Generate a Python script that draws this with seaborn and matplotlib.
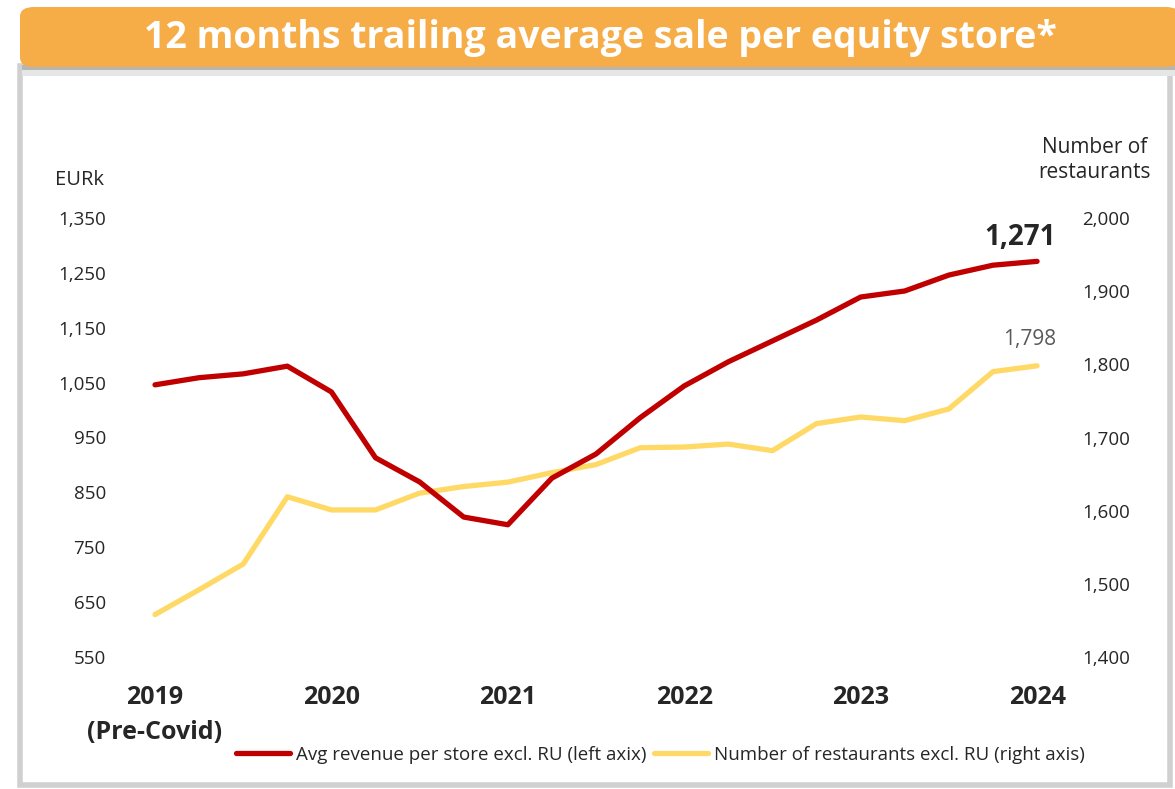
import pandas as pd
import numpy as np
import matplotlib.pyplot as plt
import matplotlib as mpl
from matplotlib.patches import Rectangle, FancyBboxPatch
from matplotlib.lines import Line2D
import seaborn as sns

sns.set_style('white')
plt.rcParams['font.family'] = ['Open Sans', 'DejaVu Sans']

# quarterly points, 2019 (pre-covid) .. 2024
quarters = list(range(21))
year_ticks = [0, 4, 8, 12, 16, 20]
year_labels = ['2019\n(Pre-Covid)', '2020', '2021', '2022', '2023', '2024']

revenue = [1046, 1059, 1066, 1080, 1033, 913, 869, 805, 791, 876, 920,
           986, 1044, 1088, 1126, 1164, 1206, 1217, 1246, 1264, 1271]
restaurants = [1458, 1492, 1527, 1619, 1601, 1601, 1624, 1633, 1639, 1652, 1663,
               1686, 1687, 1691, 1682, 1719, 1728, 1723, 1739, 1790, 1798]

left_ticks = [550, 650, 750, 850, 950, 1050, 1150, 1250, 1350]
right_ticks = [1400, 1500, 1600, 1700, 1800, 1900, 2000]

red = '#C00000'
yellow = '#FFD966'

df = pd.DataFrame({'quarter': quarters, 'revenue': revenue, 'restaurants': restaurants})

W, H = 1175, 789
fig = plt.figure(figsize=(11.75, 7.89), dpi=100)

# panel frame + banner (kept behind the axes)
fig.patches.append(Rectangle((20/W, 4/H), 1150/W, 1 - 70/H, transform=fig.transFigure,
                             facecolor='white', edgecolor='#d0d0d0', lw=4, zorder=-3))
fig.patches.append(Rectangle((22/W, 1 - 76/H), 1153/W, 10/H, transform=fig.transFigure,
                             facecolor='#e6e6e6', edgecolor='none', zorder=-2))
fig.patches.append(Rectangle((22/W, 1 - 70/H), 1153/W, 5/H, transform=fig.transFigure,
                             facecolor='#b5b5b5', edgecolor='none', zorder=-2))
fig.patches.append(FancyBboxPatch((20/W, 1 - 67/H), 1160/W, 60/H, transform=fig.transFigure,
                                  boxstyle='round,pad=0,rounding_size=0.012',
                                  facecolor='#F6AD47', edgecolor='none', zorder=-1))
fig.text(600/W, 1 - 38/H, '12 months trailing average sale per equity store*', color='white',
         fontsize=27, fontweight='bold', ha='center', va='center', zorder=3)

ax = fig.add_axes([135/W, 1 - 657/H, 925/W, 439/H])
ax2 = ax.twinx()

sns.lineplot(data=df, x='quarter', y='revenue', ax=ax, color=red, lw=3.8)
sns.lineplot(data=df, x='quarter', y='restaurants', ax=ax2, color=yellow, lw=3.8)
ax2.set_zorder(1)
ax.set_zorder(2)
ax.patch.set_visible(False)
ax2.patch.set_visible(False)

ax.set_xlim(-0.454, 20.52)
ax.set_ylim(550, 1350)
ax2.set_ylim(1400, 2000)
ax.set_yticks(left_ticks)
ax.set_yticklabels(['{:,}'.format(v) for v in left_ticks])
ax2.set_yticks(right_ticks)
ax2.set_yticklabels(['{:,}'.format(v) for v in right_ticks])
ax.set_xticks(year_ticks)
ax.set_xticklabels(year_labels, fontweight='bold', fontsize=18, va='top')
for t in ax.get_xticklabels():
    t.set_linespacing(1.55)
ax.tick_params(axis='x', length=0, pad=20)
ax.tick_params(axis='y', length=0, pad=21, labelsize=13.5)
ax2.tick_params(axis='y', length=0, pad=16, labelsize=13.5)
ax.set_xlabel('')
ax.set_ylabel('')
ax2.set_ylabel('')
for a in (ax, ax2):
    for s in a.spines.values():
        s.set_visible(False)

fig.text(55/W, 1 - 180/H, 'EURk', fontsize=14.5, ha='left', va='center')
fig.text(1095/W, 1 - 160/H, 'Number of\nrestaurants', fontsize=15, ha='center', va='center',
         linespacing=1.25)

ax.annotate('{:,}'.format(revenue[-1]), (quarters[-1], revenue[-1]), xytext=(-12, 17),
            textcoords='offset points', ha='center', va='center', fontsize=20, fontweight='bold')
ax2.annotate('{:,}'.format(restaurants[-1]), (quarters[-1], restaurants[-1]), xytext=(-5, 19),
             textcoords='offset points', ha='center', va='center', fontsize=15, color='#595959')

handles = [Line2D([], [], color=red, lw=3.8), Line2D([], [], color=yellow, lw=3.8)]
fig.legend(handles, ['Avg revenue per store excl. RU (left axix)',
                     'Number of restaurants excl. RU (right axis)'],
           loc='center', bbox_to_anchor=(660/W, 1 - 755/H), ncol=2, frameon=False,
           fontsize=13.5, handlelength=2.9, handletextpad=0.3, columnspacing=0.4)

fig.savefig('out.png', dpi=100)
